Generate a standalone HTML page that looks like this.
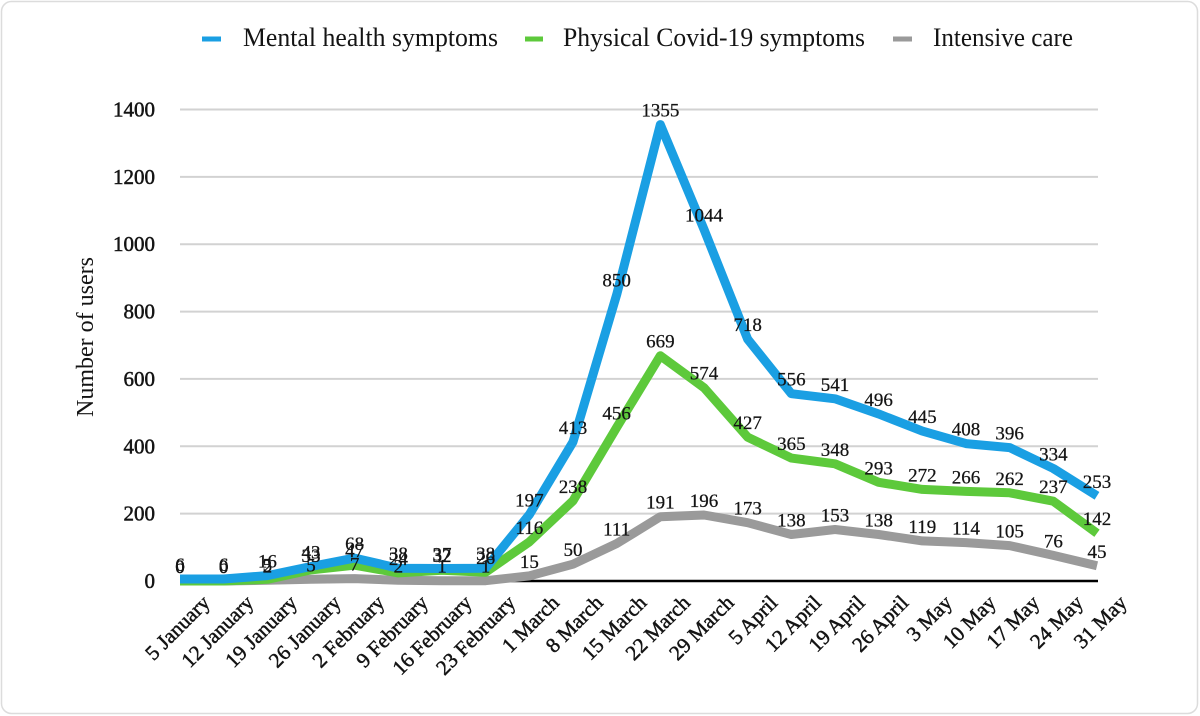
<!DOCTYPE html>
<html>
<head>
<meta charset="utf-8">
<style>
  html,body{margin:0;padding:0;background:#fff;}
  svg{display:block;}
  text{font-family:"Liberation Serif","DejaVu Serif",serif;fill:#141414;}
  .tick{font-size:21px;stroke:#141414;stroke-width:0.5;}
  .xl{font-size:21px;stroke:#141414;stroke-width:0.5;}
  .dl{font-size:19px;text-anchor:middle;stroke:#141414;stroke-width:0.25;}
  .lg{font-size:26px;}
</style>
</head>
<body>
<svg width="1200" height="716" viewBox="0 0 1200 716" xmlns="http://www.w3.org/2000/svg">
  <rect x="0" y="0" width="1200" height="716" fill="#fff"/>
  <rect x="1.5" y="1.5" width="1196" height="712" rx="10" ry="10" fill="#fff" stroke="#dcdcdc" stroke-width="1.5"/>

  <!-- Legend -->
  <rect x="202" y="36.5" width="19" height="5" fill="#1a9fe3"/>
  <text class="lg" x="243" y="46" textLength="255" lengthAdjust="spacingAndGlyphs">Mental health symptoms</text>
  <rect x="525" y="36.5" width="18" height="5" fill="#5dc93b"/>
  <text class="lg" x="563" y="46" textLength="302" lengthAdjust="spacingAndGlyphs">Physical Covid-19 symptoms</text>
  <rect x="893" y="36.5" width="19" height="5" fill="#9a9a9a"/>
  <text class="lg" x="933" y="46" textLength="140" lengthAdjust="spacingAndGlyphs">Intensive care</text>

  <!-- Y axis title -->
  <text x="0" y="0" font-size="24" text-anchor="middle" transform="translate(93,337) rotate(-90)">Number of users</text>

  <!-- Gridlines -->
  <g stroke="#d2d2d2" stroke-width="2">
    <line x1="180" y1="109.5" x2="1098" y2="109.5"/>
    <line x1="180" y1="176.9" x2="1098" y2="176.9"/>
    <line x1="180" y1="244.2" x2="1098" y2="244.2"/>
    <line x1="180" y1="311.6" x2="1098" y2="311.6"/>
    <line x1="180" y1="378.9" x2="1098" y2="378.9"/>
    <line x1="180" y1="446.3" x2="1098" y2="446.3"/>
    <line x1="180" y1="513.6" x2="1098" y2="513.6"/>
  </g>
  <line x1="180" y1="581" x2="1098" y2="581" stroke="#000" stroke-width="2.5"/>

  <!-- Y tick labels -->
  <g class="tick" text-anchor="end">
    <text x="155" y="116.5">1400</text>
    <text x="155" y="183.9">1200</text>
    <text x="155" y="251.2">1000</text>
    <text x="155" y="318.6">800</text>
    <text x="155" y="385.9">600</text>
    <text x="155" y="453.3">400</text>
    <text x="155" y="520.6">200</text>
    <text x="155" y="588">0</text>
  </g>

  <!-- Series -->
  <g fill="none" stroke-width="9" stroke-linejoin="round" stroke-linecap="butt">
    <polyline stroke="#9a9a9a" points="180,581 223.67,581 267.33,580.3 311,579.3 354.67,578.6 398.33,580.3 442,580.7 485.67,580.7 529.33,575.9 573,564.2 616.67,543.6 660.33,516.7 704,515.0 747.67,522.7 791.33,534.5 835,529.5 878.67,534.5 922.33,540.9 966,542.6 1009.67,545.6 1053.33,555.4 1097,565.8"/>
    <polyline stroke="#5dc93b" points="180,581 223.67,581 267.33,579.3 311,569.9 354.67,565.2 398.33,572.9 442,570.2 485.67,572.2 529.33,541.9 573,500.8 616.67,427.4 660.33,355.7 704,387.7 747.67,437.2 791.33,458.1 835,463.8 878.67,482.3 922.33,489.4 966,491.4 1009.67,492.8 1053.33,501.2 1097,533.2"/>
    <polyline stroke="#1a9fe3" points="180,579 223.67,579 267.33,575.6 311,566.5 354.67,558.1 398.33,568.2 442,568.5 485.67,568.2 529.33,514.65 573,441.9 616.67,294.7 660.33,124.65 704,229.4 747.67,339.2 791.33,393.7 835,398.8 878.67,413.95 922.33,431.1 966,443.6 1009.67,447.6 1053.33,468.5 1097,495.8"/>
  </g>

  <!-- Data labels: gray -->
  <g class="dl">
    <text x="180" y="573">0</text>
    <text x="223.67" y="573">0</text>
    <text x="267.33" y="572.3">2</text>
    <text x="311" y="571.3">5</text>
    <text x="354.67" y="570.6">7</text>
    <text x="398.33" y="572.3">2</text>
    <text x="442" y="572.7">1</text>
    <text x="485.67" y="572.7">1</text>
    <text x="529.33" y="567.9">15</text>
    <text x="573" y="556.2">50</text>
    <text x="616.67" y="535.6">111</text>
    <text x="660.33" y="508.7">191</text>
    <text x="704" y="507">196</text>
    <text x="747.67" y="514.7">173</text>
    <text x="791.33" y="526.5">138</text>
    <text x="835" y="521.5">153</text>
    <text x="878.67" y="526.5">138</text>
    <text x="922.33" y="532.9">119</text>
    <text x="966" y="534.6">114</text>
    <text x="1009.67" y="537.6">105</text>
    <text x="1053.33" y="547.4">76</text>
    <text x="1097" y="557.8">45</text>
  </g>
  <!-- Data labels: green -->
  <g class="dl">
    <text x="180" y="573">0</text>
    <text x="223.67" y="573">0</text>
    <text x="267.33" y="571.3">5</text>
    <text x="311" y="561.9">33</text>
    <text x="354.67" y="557.2">47</text>
    <text x="398.33" y="564.9">24</text>
    <text x="442" y="562.2">32</text>
    <text x="485.67" y="564.2">26</text>
    <text x="529.33" y="533.9">116</text>
    <text x="573" y="492.8">238</text>
    <text x="616.67" y="419.4">456</text>
    <text x="660.33" y="347.7">669</text>
    <text x="704" y="379.7">574</text>
    <text x="747.67" y="429.2">427</text>
    <text x="791.33" y="450.1">365</text>
    <text x="835" y="455.8">348</text>
    <text x="878.67" y="474.3">293</text>
    <text x="922.33" y="481.4">272</text>
    <text x="966" y="483.4">266</text>
    <text x="1009.67" y="484.8">262</text>
    <text x="1053.33" y="493.2">237</text>
    <text x="1097" y="525.2">142</text>
  </g>
  <!-- Data labels: blue -->
  <g class="dl">
    <text x="180" y="571">6</text>
    <text x="223.67" y="571">6</text>
    <text x="267.33" y="567.6">16</text>
    <text x="311" y="558.5">43</text>
    <text x="354.67" y="550.1">68</text>
    <text x="398.33" y="560.2">38</text>
    <text x="442" y="560.5">37</text>
    <text x="485.67" y="560.2">38</text>
    <text x="529.33" y="506.65">197</text>
    <text x="573" y="433.9">413</text>
    <text x="616.67" y="286.7">850</text>
    <text x="660.33" y="116.65">1355</text>
    <text x="704" y="221.4">1044</text>
    <text x="747.67" y="331.2">718</text>
    <text x="791.33" y="385.7">556</text>
    <text x="835" y="390.8">541</text>
    <text x="878.67" y="405.95">496</text>
    <text x="922.33" y="423.1">445</text>
    <text x="966" y="435.6">408</text>
    <text x="1009.67" y="439.6">396</text>
    <text x="1053.33" y="460.5">334</text>
    <text x="1097" y="487.8">253</text>
  </g>

  <!-- X axis labels -->
  <g class="xl" text-anchor="end">
    <text transform="translate(211,604) rotate(-45)">5 January</text>
    <text transform="translate(254.67,604) rotate(-45)">12 January</text>
    <text transform="translate(298.33,604) rotate(-45)">19 January</text>
    <text transform="translate(342,604) rotate(-45)">26 January</text>
    <text transform="translate(385.67,604) rotate(-45)">2 February</text>
    <text transform="translate(429.33,604) rotate(-45)">9 February</text>
    <text transform="translate(473,604) rotate(-45)">16 February</text>
    <text transform="translate(516.67,604) rotate(-45)">23 February</text>
    <text transform="translate(560.33,604) rotate(-45)">1 March</text>
    <text transform="translate(604,604) rotate(-45)">8 March</text>
    <text transform="translate(647.67,604) rotate(-45)">15 March</text>
    <text transform="translate(691.33,604) rotate(-45)">22 March</text>
    <text transform="translate(735,604) rotate(-45)">29 March</text>
    <text transform="translate(778.67,604) rotate(-45)">5 April</text>
    <text transform="translate(822.33,604) rotate(-45)">12 April</text>
    <text transform="translate(866,604) rotate(-45)">19 April</text>
    <text transform="translate(909.67,604) rotate(-45)">26 April</text>
    <text transform="translate(953.33,604) rotate(-45)">3 May</text>
    <text transform="translate(997,604) rotate(-45)">10 May</text>
    <text transform="translate(1040.67,604) rotate(-45)">17 May</text>
    <text transform="translate(1084.33,604) rotate(-45)">24 May</text>
    <text transform="translate(1128,604) rotate(-45)">31 May</text>
  </g>
</svg>
</body>
</html>
